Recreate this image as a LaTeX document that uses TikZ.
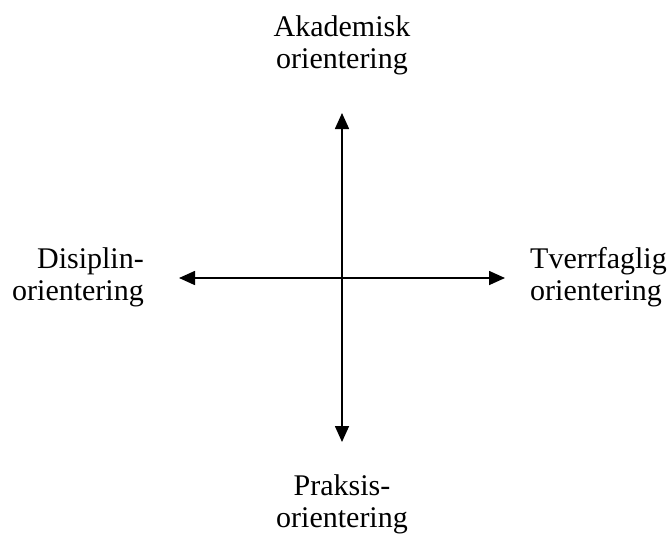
\documentclass[tikz,border=0pt]{standalone}
\usepackage{fontspec}
\setmainfont{Liberation Serif}
\usetikzlibrary{arrows.meta}
\tikzset{
  axis/.style={line width=1.6pt, {Triangle[length=16pt,width=14pt]}-{Triangle[length=16pt,width=14pt]}},
  lbl/.style={inner sep=0pt, font=\fontsize{30}{32}\selectfont}
}
\begin{document}
\begin{tikzpicture}[x=1pt,y=-1pt]
\useasboundingbox (0,0) rectangle (668,533);
\coordinate (c) at (342,278);
\coordinate (top) at (342,113);
\coordinate (bot) at (342,442);
\coordinate (left) at (179,278);
\coordinate (right) at (505,278);
\draw[axis] (top) -- (bot);
\draw[axis] (left) -- (right);
\node[lbl, anchor=base] (akad) at (342,36) {\begin{tabular}[t]{@{}c@{}}Akademisk\\orientering\end{tabular}};
\node[lbl, anchor=base] (praks) at (342,495) {\begin{tabular}[t]{@{}c@{}}Praksis-\\orientering\end{tabular}};
\node[lbl, anchor=base east] (disi) at (144,268) {\begin{tabular}[t]{@{}r@{}}Disiplin-\\orientering\end{tabular}};
\node[lbl, anchor=base west] (tverr) at (530,268) {\begin{tabular}[t]{@{}l@{}}Tverrfaglig\\orientering\end{tabular}};
\end{tikzpicture}
\end{document}
